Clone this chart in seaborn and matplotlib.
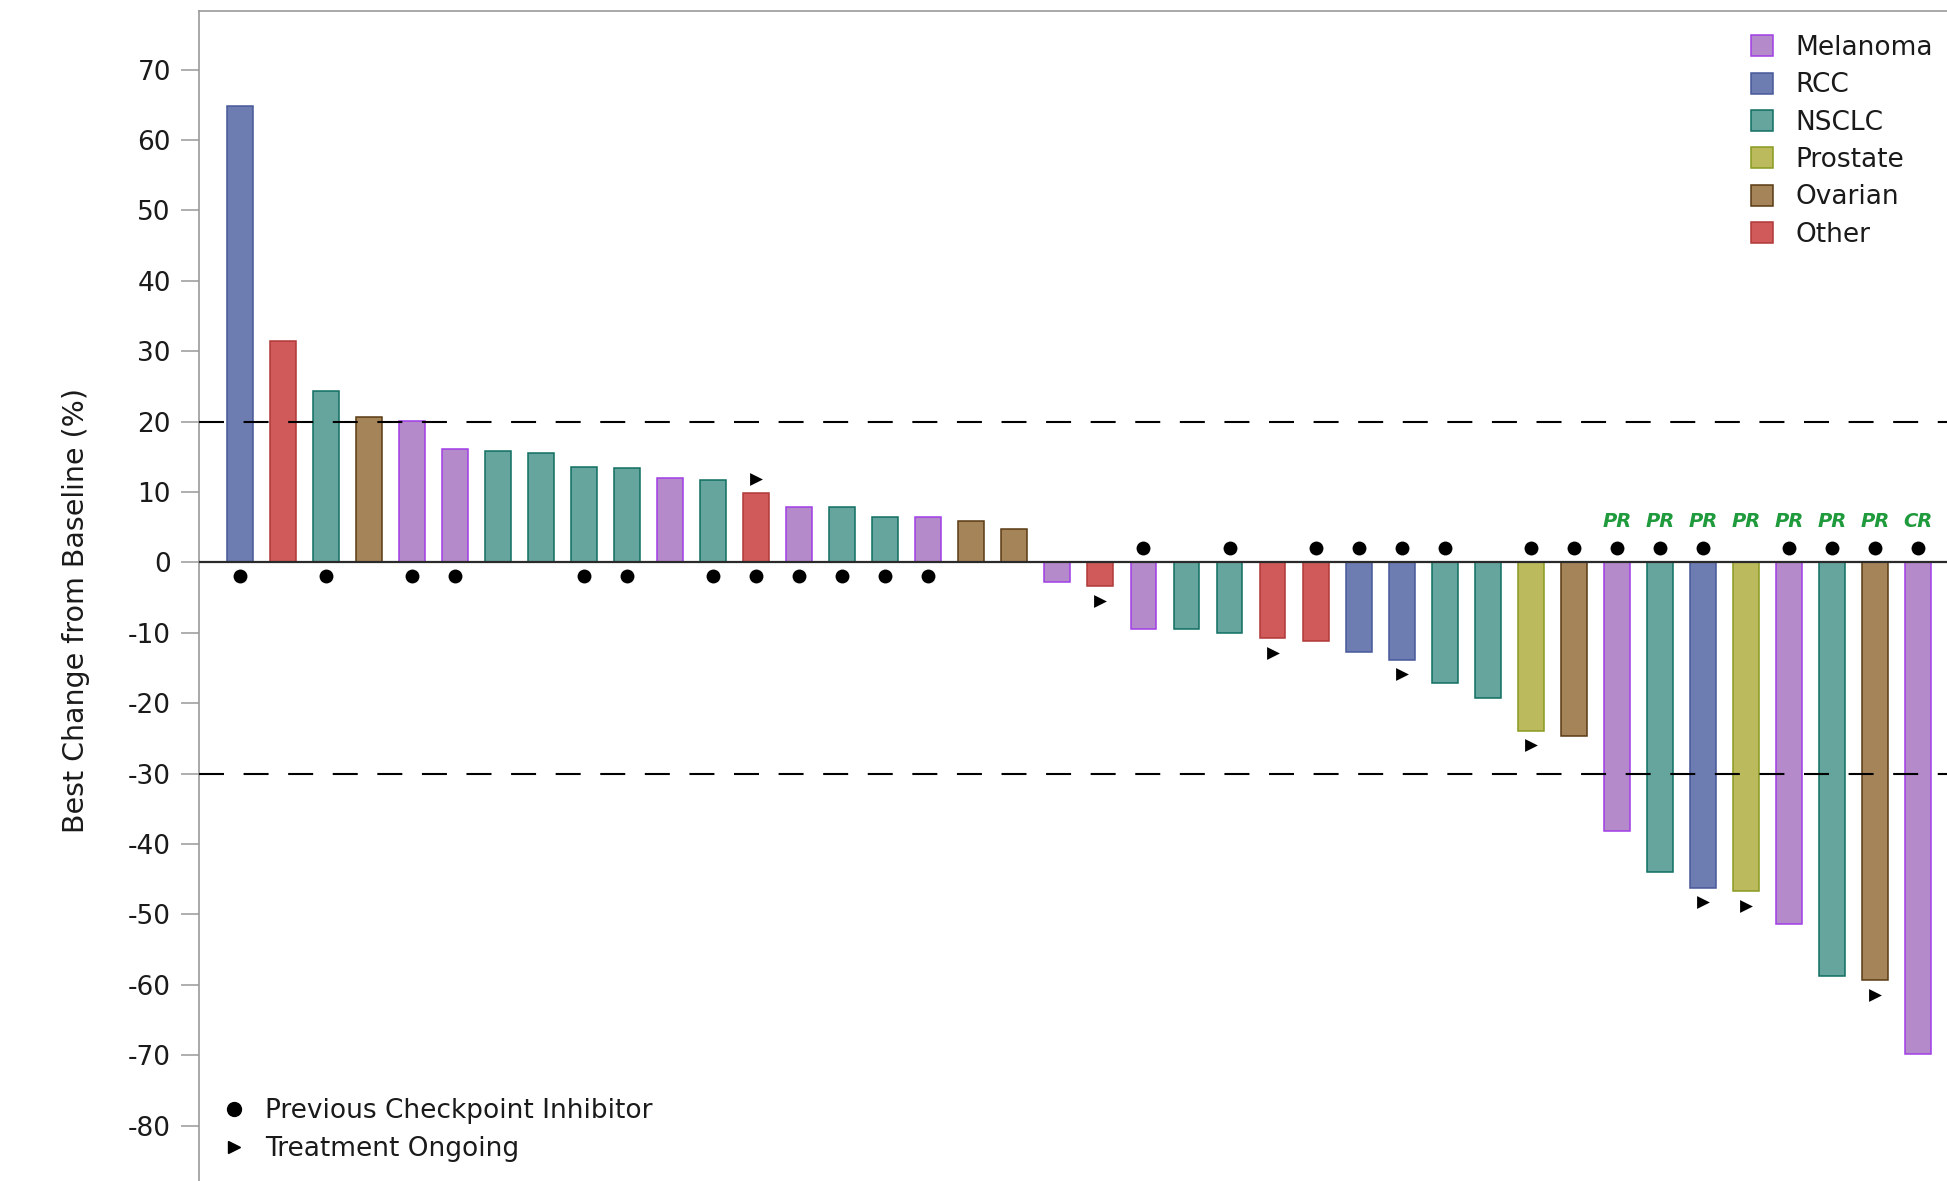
import numpy as np
import pandas as pd
import matplotlib
matplotlib.use("Agg")
import matplotlib.pyplot as plt
from matplotlib.patches import Patch
from matplotlib.lines import Line2D
import seaborn as sns

# Best percent change in tumour size per patient, sorted (waterfall)
change = [64.9, 31.4, 24.3, 20.7, 20.1, 16.1, 15.8, 15.5, 13.6, 13.4,
          12.0, 11.7, 9.9, 7.9, 7.9, 6.5, 6.5, 5.9, 4.7,
          -2.8, -3.4, -9.4, -9.4, -10.0, -10.8, -11.1, -12.7, -13.8, -17.1, -19.3,
          -23.9, -24.6, -38.2, -44.0, -46.2, -46.7, -51.4, -58.8, -59.3, -69.8]
tumor = ["RCC", "Other", "NSCLC", "Ovarian", "Melanoma", "Melanoma", "NSCLC", "NSCLC", "NSCLC", "NSCLC",
         "Melanoma", "NSCLC", "Other", "Melanoma", "NSCLC", "NSCLC", "Melanoma", "Ovarian", "Ovarian",
         "Melanoma", "Other", "Melanoma", "NSCLC", "NSCLC", "Other", "Other", "RCC", "RCC", "NSCLC", "NSCLC",
         "Prostate", "Ovarian", "Melanoma", "NSCLC", "RCC", "Prostate", "Melanoma", "NSCLC", "Ovarian", "Melanoma"]
# 1 = received a previous checkpoint inhibitor
prior_cpi = [1, 0, 1, 0, 1, 1, 0, 0, 1, 1,
             0, 1, 1, 1, 1, 1, 1, 0, 0,
             0, 0, 1, 0, 1, 0, 1, 1, 1, 1, 0,
             1, 1, 1, 1, 1, 0, 1, 1, 1, 1]
# 1 = treatment still ongoing
ongoing = [0, 0, 0, 0, 0, 0, 0, 0, 0, 0,
           0, 0, 1, 0, 0, 0, 0, 0, 0,
           0, 1, 0, 0, 0, 1, 0, 0, 1, 0, 0,
           1, 0, 0, 0, 1, 1, 0, 0, 1, 0]
# best overall response
response = ["", "", "", "", "", "", "", "", "", "",
            "", "", "", "", "", "", "", "", "",
            "", "", "", "", "", "", "", "", "", "", "",
            "", "", "PR", "PR", "PR", "PR", "PR", "PR", "PR", "CR"]

tumor_order = ["Melanoma", "RCC", "NSCLC", "Prostate", "Ovarian", "Other"]
fill = {"Melanoma": "#b48acb", "RCC": "#6e7db1", "NSCLC": "#66a59e",
        "Prostate": "#bbbb5d", "Ovarian": "#a68459", "Other": "#d05a5a"}
edge = {"Melanoma": "#a03ee6", "RCC": "#48589a", "NSCLC": "#0f6f62",
        "Prostate": "#8a9a22", "Ovarian": "#5a3a14", "Other": "#b03838"}

sns.set_style("white")
plt.rcParams["font.family"] = ["DejaVu Sans"]
plt.rcParams["axes.unicode_minus"] = False

W, H = 1947, 1181
fig = plt.figure(figsize=(W / 100, H / 100), dpi=100)
ax = fig.add_axes([198.7 / W, 0, 1 - 198.7 / W, 1 - 10.7 / H])

n = len(change)
df = pd.DataFrame({"patient": [f"P{i + 1:02d}" for i in range(n)],
                   "change": change, "tumor": tumor})
sns.barplot(data=df, x="patient", y="change", hue="tumor", hue_order=tumor_order,
            order=list(df["patient"]), palette=fill, dodge=False, width=0.6,
            saturation=1, errorbar=None, legend=False, ax=ax, zorder=2)
for container, level in zip(ax.containers, tumor_order):
    for bar in container:
        bar.set_edgecolor(edge[level])
        bar.set_linewidth(1.1)

# reference lines
ax.axhline(0, color="#2a2a2a", lw=1.6, zorder=4)
for yv in (20, -30):
    ax.axhline(yv, color="black", lw=1.5, dashes=(12, 9.4), zorder=5)

pos = np.arange(n)
vals = np.array(change)
cpi = np.array(prior_cpi, dtype=bool)
ong = np.array(ongoing, dtype=bool)

dot_y = np.where(vals > 0, -1.95, 2.1)
ax.scatter(pos[cpi], dot_y[cpi], s=100, marker="o", color="black", zorder=6, linewidths=0)
tri_y = np.where(vals > 0, vals + 1.95, vals - 2.1)
ax.scatter(pos[ong], tri_y[ong], s=85, marker=">", color="black", zorder=6, linewidths=0)

for i, lab in enumerate(response):
    if lab:
        ax.text(i, 5.8, lab, ha="center", va="center", color="#1f9a3c",
                fontsize=14, fontweight="bold", fontstyle="italic", zorder=6)

ax.set_xlim(-0.95, n - 0.33)
ax.set_ylim(-87.87, 78.37)
ax.set_xticks([])
ax.set_xlabel("")
ax.set_ylabel("")
ax.set_yticks(np.arange(-80, 71, 10))
ax.tick_params(axis="y", left=True, length=13, width=1.1, color="#999999",
               pad=7, labelsize=19, labelcolor="#1a1a1a")
for side in ("right", "bottom"):
    ax.spines[side].set_visible(False)
for side in ("top", "left"):
    ax.spines[side].set_color("#999999")
    ax.spines[side].set_linewidth(1.2)

fig.text(75.8 / W, 1 - 610.5 / H, "Best Change from Baseline (%)", rotation=90,
         ha="center", va="center", fontsize=20.5, color="#1a1a1a")

# tumour type legend
handles = [Patch(facecolor=fill[t], edgecolor=edge[t], linewidth=1.1, label=t) for t in tumor_order]
leg1 = ax.legend(handles=handles, loc="upper left",
                 bbox_to_anchor=(1750.7 / W, 1 - 35.0 / H), bbox_transform=fig.transFigure,
                 frameon=False, fontsize=19, handlelength=0.85, handleheight=0.85,
                 handletextpad=0.86, labelspacing=0.43, borderpad=0, borderaxespad=0)
for t in leg1.get_texts():
    t.set_color("#1a1a1a")
ax.add_artist(leg1)

# marker legend
mhandles = [Line2D([], [], ls="none", marker="o", color="black", markersize=10,
                   label="Previous Checkpoint Inhibitor"),
            Line2D([], [], ls="none", marker=">", color="black", markersize=8,
                   label="Treatment Ongoing")]
leg2 = ax.legend(handles=mhandles, loc="upper left",
                 bbox_to_anchor=(220.8 / W, 1 - 1098.5 / H), bbox_transform=fig.transFigure,
                 frameon=False, fontsize=19, handlelength=1.0, handletextpad=0.67,
                 labelspacing=0.45, borderpad=0, borderaxespad=0)
for t in leg2.get_texts():
    t.set_color("#1a1a1a")

fig.savefig("out.png", dpi=100)
